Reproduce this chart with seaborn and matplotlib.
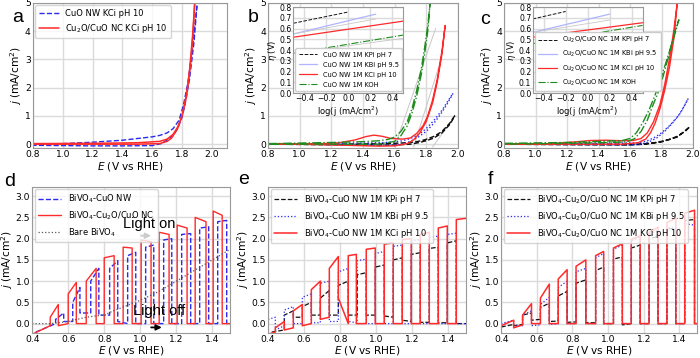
import numpy as np
import pandas as pd
import matplotlib
matplotlib.use('Agg')
import matplotlib.pyplot as plt
import seaborn as sns

# ---------------- data: panel a (LSV, KCi pH 10) ----------------
a_cuo_fwd_E = [0.8, 1.0, 1.2, 1.4, 1.5, 1.6, 1.65, 1.7, 1.74, 1.78, 1.81, 1.84, 1.87, 1.9]
a_cuo_fwd_j = [0.0, 0.02, 0.07, 0.14, 0.2, 0.26, 0.31, 0.4, 0.55, 0.85, 1.4, 2.2, 3.4, 4.9]
a_cuo_rev_E = [1.9, 1.88, 1.85, 1.82, 1.8, 1.77, 1.74, 1.7, 1.66, 1.6, 1.4, 1.2, 1.0, 0.8]
a_cuo_rev_j = [4.9, 3.6, 2.3, 1.4, 0.95, 0.55, 0.3, 0.15, 0.02, -0.05, -0.06, -0.06, -0.05, -0.04]
a_nc_fwd_E = [0.8, 1.2, 1.5, 1.65, 1.7, 1.74, 1.77, 1.8, 1.82, 1.84, 1.86, 1.875, 1.885]
a_nc_fwd_j = [0.02, 0.03, 0.05, 0.1, 0.18, 0.35, 0.6, 1.0, 1.5, 2.1, 3.0, 4.0, 5.0]
a_nc_rev_E = [1.885, 1.87, 1.85, 1.83, 1.8, 1.77, 1.73, 1.7, 1.65, 1.5, 1.2, 0.8]
a_nc_rev_j = [5.0, 3.8, 2.6, 1.7, 1.0, 0.55, 0.22, 0.1, 0.02, 0.0, 0.0, 0.0]

# ---------------- data: panel b (CuO NW, 4 electrolytes) ----------------
b_kpi_E = [0.8, 1.2, 1.5, 1.6, 1.7, 1.75, 1.8, 1.85, 1.9, 1.95, 1.98, 1.95, 1.9, 1.85, 1.8, 1.75, 1.7, 1.6, 1.4, 1.0, 0.8]
b_kpi_j = [0.0, 0.0, 0.02, 0.03, 0.06, 0.1, 0.17, 0.28, 0.45, 0.75, 1.0, 0.7, 0.4, 0.22, 0.12, 0.05, 0.0, -0.03, -0.03, -0.01, 0.0]
b_kbi_E = [0.8, 1.2, 1.5, 1.6, 1.65, 1.7, 1.75, 1.8, 1.85, 1.9, 1.94, 1.97, 1.93, 1.89, 1.85, 1.8, 1.75, 1.7, 1.65, 1.6, 1.4, 1.0, 0.8]
b_kbi_j = [0.0, 0.02, 0.05, 0.08, 0.12, 0.2, 0.33, 0.55, 0.85, 1.2, 1.55, 1.8, 1.4, 1.05, 0.75, 0.45, 0.25, 0.1, 0.0, -0.03, -0.03, 0.0, 0.0]
b_kci_E = [0.8, 1.1, 1.25, 1.35, 1.42, 1.47, 1.52, 1.58, 1.65, 1.7, 1.74, 1.78, 1.81, 1.84, 1.87, 1.9, 1.92,
           1.9, 1.87, 1.84, 1.8, 1.76, 1.72, 1.68, 1.6, 1.5, 1.3, 1.0, 0.8]
b_kci_j = [0.0, 0.01, 0.05, 0.15, 0.27, 0.32, 0.28, 0.2, 0.18, 0.22, 0.38, 0.65, 1.0, 1.55, 2.3, 3.3, 4.2,
           3.2, 2.2, 1.45, 0.8, 0.4, 0.15, 0.02, -0.06, -0.07, -0.04, 0.0, 0.0]
b_koh_E = [0.8, 1.0, 1.2, 1.4, 1.5, 1.56, 1.6, 1.64, 1.68, 1.71, 1.74, 1.77, 1.79, 1.81, 1.825,
           1.81, 1.79, 1.77, 1.74, 1.71, 1.68, 1.64, 1.6, 1.5, 1.3, 1.0, 0.8]
b_koh_j = [0.02, 0.04, 0.06, 0.09, 0.12, 0.17, 0.25, 0.45, 0.8, 1.25, 1.9, 2.7, 3.4, 4.2, 5.0,
           4.0, 3.2, 2.5, 1.7, 1.1, 0.65, 0.3, 0.1, 0.0, 0.0, 0.0, 0.0]
b_fit1_E, b_fit1_j = [1.60, 1.86], [-0.1, 4.1]
b_fit2_E, b_fit2_j = [1.72, 1.90], [-0.1, 3.1]
b_fit3_E, b_fit3_j = [1.84, 1.97], [-0.1, 0.9]

# Tafel inset b
bi_logj = [-0.5, 0.0, 0.25, 0.5]
bi_kpi = [0.65, 0.755]
bi_kbi = [0.55, 0.735]
bi_kci = [0.52, 0.67]
bi_koh = [0.37, 0.54]
bi_fit_kbi = [0.55, 0.69]
bi_fit_koh = [0.37, 0.51]

# ---------------- data: panel c (Cu2O/CuO NC, 4 electrolytes) ----------------
c_kpi_E = [0.8, 1.2, 1.5, 1.65, 1.7, 1.75, 1.8, 1.85, 1.9, 1.95, 1.98, 1.9, 1.8, 1.7, 1.6, 1.2, 0.8]
c_kpi_j = [0.0, 0.0, 0.0, 0.0, 0.02, 0.05, 0.1, 0.17, 0.28, 0.45, 0.62, 0.25, 0.08, 0.0, -0.03, -0.02, 0.0]
c_kbi_E = [0.8, 1.2, 1.5, 1.65, 1.7, 1.75, 1.8, 1.85, 1.9, 1.94, 1.97, 1.92, 1.87, 1.82, 1.77, 1.72, 1.67, 1.6, 1.4, 1.0, 0.8]
c_kbi_j = [0.0, 0.01, 0.04, 0.05, 0.1, 0.22, 0.4, 0.65, 0.95, 1.3, 1.62, 1.1, 0.75, 0.45, 0.22, 0.08, 0.0, -0.03, -0.02, 0.0, 0.0]
c_kci_E = [0.8, 1.1, 1.25, 1.35, 1.45, 1.55, 1.62, 1.67, 1.71, 1.75, 1.79, 1.82, 1.85, 1.88, 1.9,
           1.88, 1.85, 1.82, 1.79, 1.76, 1.73, 1.7, 1.65, 1.55, 1.4, 1.2, 0.8]
c_kci_j = [0.0, 0.02, 0.08, 0.13, 0.14, 0.12, 0.13, 0.2, 0.4, 0.8, 1.4, 2.1, 3.0, 4.1, 5.0,
           3.8, 2.7, 1.9, 1.25, 0.75, 0.4, 0.18, 0.05, 0.0, 0.0, 0.0, 0.0]
c_koh_E = [0.8, 1.2, 1.4, 1.55, 1.6, 1.64, 1.68, 1.72, 1.76, 1.8, 1.84, 1.88, 1.91,
           1.88, 1.85, 1.81, 1.78, 1.74, 1.71, 1.67, 1.63, 1.58, 1.4, 1.2, 0.8]
c_koh_j = [0.03, 0.06, 0.1, 0.13, 0.2, 0.4, 0.75, 1.2, 1.75, 2.4, 3.1, 3.8, 4.4,
           3.9, 3.2, 2.4, 1.85, 1.3, 0.85, 0.45, 0.2, 0.08, 0.05, 0.03, 0.0]

# Tafel inset c
ci_kpi_x, ci_kpi = [-0.5, -0.2], [0.69, 0.76]
ci_kbi_x, ci_kbi = [-0.5, 0.2], [0.565, 0.735]
ci_kci_x, ci_kci = [-0.5, 0.5], [0.52, 0.655]
ci_koh_x, ci_koh = [-0.5, 0.5], [0.46, 0.63]
ci_fit_kbi = [0.565, 0.68]

# ---------------- data: chopped-light panels ----------------
# each pulse: light-on potential, light-off potential, current at on, current at off,
# dark current just before the pulse and just after it
d_nc = dict(start=(0.40, -0.25), end=(1.5, 0.0),
            on=[0.50, 0.60, 0.70, 0.80, 0.905, 1.005, 1.105, 1.205, 1.305, 1.405],
            off=[0.545, 0.645, 0.755, 0.855, 0.955, 1.06, 1.16, 1.26, 1.365, 1.455],
            j_on=[0.15, 0.7, 1.0, 1.55, 1.8, 1.97, 2.15, 2.32, 2.5, 2.65],
            j_off=[0.45, 0.97, 1.3, 1.6, 1.78, 1.93, 2.1, 2.25, 2.4, 2.55],
            dark_pre=[-0.05, 0.0, 0.0, 0.0, 0.0, 0.0, 0.0, 0.0, 0.0, 0.0],
            dark_post=[-0.05, 0.0, 0.0, 0.0, 0.0, 0.0, 0.0, 0.0, 0.0, 0.0])
d_nw = dict(start=(0.42, -0.2), end=(1.5, 0.0),
            on=[0.53, 0.625, 0.725, 0.83, 0.93, 1.03, 1.13, 1.23, 1.33, 1.43],
            off=[0.575, 0.665, 0.77, 0.875, 0.975, 1.075, 1.175, 1.28, 1.38, 1.48],
            j_on=[0.1, 0.5, 1.0, 1.3, 1.6, 1.8, 1.97, 2.1, 2.25, 2.4],
            j_off=[0.25, 0.85, 1.3, 1.48, 1.68, 1.85, 2.0, 2.12, 2.28, 2.43],
            dark_pre=[0.0, 0.05, 0.25, 0.2, 0.0, 0.0, 0.0, 0.0, 0.0, 0.0],
            dark_post=[0.05, 0.25, 0.2, 0.05, 0.0, 0.0, 0.0, 0.0, 0.0, 0.0])
d_bare_E = [0.4, 0.5, 0.55, 0.6, 0.65, 0.7, 0.75, 0.8, 0.85, 0.9, 1.0, 1.1, 1.2, 1.3, 1.4, 1.5]
d_bare_j = [0.0, 0.0, 0.02, 0.05, 0.1, 0.15, 0.18, 0.2, 0.3, 0.38, 0.55, 0.75, 1.0, 1.25, 1.5, 1.75]

e_kpi = dict(start=(0.42, -0.2), end=(1.5, 0.0),
             on=[0.49, 0.59, 0.69, 0.79, 0.895, 0.995, 1.095, 1.195, 1.295, 1.395],
             off=[0.54, 0.64, 0.74, 0.845, 0.945, 1.045, 1.145, 1.245, 1.345, 1.445],
             j_on=[0.2, 0.4, 0.6, 0.9, 1.15, 1.33, 1.5, 1.63, 1.77, 1.9],
             j_off=[0.3, 0.5, 0.78, 1.0, 1.2, 1.38, 1.55, 1.67, 1.8, 1.95],
             dark_pre=[-0.15, 0.15, 0.2, 0.2, 0.2, 0.2, 0.15, 0.05, 0.03, 0.02],
             dark_post=[0.15, 0.2, 0.2, 0.2, 0.2, 0.18, 0.08, 0.03, 0.02, 0.0])
e_kbi = dict(start=(0.40, 0.1), end=(1.5, 0.0),
             on=[0.40, 0.49, 0.59, 0.69, 0.79, 0.895, 0.995, 1.095, 1.195, 1.295, 1.395],
             off=[0.44, 0.54, 0.64, 0.74, 0.845, 0.945, 1.045, 1.145, 1.245, 1.345, 1.445],
             j_on=[0.1, 0.32, 0.62, 0.95, 1.22, 1.48, 1.65, 1.82, 1.95, 2.03, 2.1],
             j_off=[0.15, 0.4, 0.7, 1.0, 1.3, 1.52, 1.7, 1.85, 1.98, 2.06, 2.13],
             dark_pre=[0.1, -0.05, 0.0, 0.02, 0.05, 0.02, 0.0, 0.0, 0.0, 0.0, 0.0],
             dark_post=[-0.15, 0.0, 0.02, 0.05, 0.05, 0.0, 0.0, 0.0, 0.0, 0.0, 0.0])
e_kci = dict(start=(0.40, -0.25), end=(1.5, 2.48),
             on=[0.44, 0.54, 0.64, 0.74, 0.845, 0.945, 1.045, 1.145, 1.245, 1.345, 1.445],
             off=[0.49, 0.59, 0.69, 0.79, 0.89, 0.995, 1.095, 1.195, 1.295, 1.395, 1.5],
             j_on=[-0.1, 0.3, 0.8, 1.3, 1.6, 1.75, 1.87, 1.98, 2.1, 2.25, 2.45],
             j_off=[0.05, 0.45, 1.0, 1.58, 1.63, 1.78, 1.9, 2.0, 2.15, 2.3, 2.48],
             dark_pre=[-0.2, -0.1, 0.0, 0.15, 0.0, 0.0, 0.0, 0.0, 0.0, 0.0, 0.0],
             dark_post=[-0.15, -0.05, 0.1, 0.6, 0.0, 0.0, 0.0, 0.0, 0.0, 0.0, 2.48])

f_on = [0.40, 0.52, 0.62, 0.72, 0.82, 0.93, 1.03, 1.13, 1.23, 1.33, 1.43]
f_off = [0.47, 0.57, 0.67, 0.77, 0.875, 0.975, 1.08, 1.18, 1.28, 1.38, 1.485]
f_kpi = dict(start=(0.40, -0.08), end=(1.5, 0.0), on=f_on, off=f_off,
             j_on=[-0.08, 0.2, 0.38, 0.65, 0.95, 1.25, 1.52, 1.78, 2.0, 2.23, 2.43],
             j_off=[-0.02, 0.25, 0.48, 0.76, 1.03, 1.33, 1.57, 1.85, 2.05, 2.25, 2.45],
             dark_pre=[-0.08, -0.02, 0.1, 0.06, 0.04, 0.02, 0.0, 0.0, 0.0, 0.0, 0.0],
             dark_post=[-0.05, 0.08, 0.05, 0.03, 0.02, 0.0, -0.03, 0.0, 0.0, 0.0, 0.0])
f_kbi = dict(start=(0.40, 0.0), end=(1.5, 0.0), on=f_on, off=f_off,
             j_on=[0.0, 0.2, 0.45, 0.85, 1.22, 1.55, 1.75, 1.95, 2.12, 2.25, 2.35],
             j_off=[0.08, 0.3, 0.62, 1.0, 1.3, 1.65, 1.85, 2.05, 2.2, 2.25, 2.32],
             dark_pre=[0.0, -0.05, -0.03, 0.0, 0.0, 0.0, 0.0, 0.0, 0.0, 0.0, 0.0],
             dark_post=[-0.05, -0.05, -0.02, 0.0, 0.0, 0.0, 0.0, 0.0, 0.0, 0.0, 0.0])
f_kci = dict(start=(0.40, -0.05), end=(1.5, 0.0), on=f_on, off=f_off,
             j_on=[-0.05, 0.2, 0.6, 1.05, 1.35, 1.6, 1.78, 1.98, 2.15, 2.38, 2.6],
             j_off=[0.08, 0.47, 0.93, 1.27, 1.5, 1.7, 1.88, 2.07, 2.27, 2.48, 2.67],
             dark_pre=[-0.05, -0.03, 0.0, 0.0, 0.0, 0.0, 0.0, 0.0, 0.0, 0.0, 0.0],
             dark_post=[-0.1, 0.0, 0.0, 0.0, 0.0, 0.0, 0.0, 0.0, 0.0, 0.0, 0.0])

RED = '#ff2a2a'
BLUE = '#2b2bf0'
GREEN = '#1e8c1e'
BLACK = '#111111'
FIT = '#c8c8c8'

sns.set_theme(style='whitegrid', rc={
    'axes.edgecolor': '0.6', 'grid.color': '0.86', 'axes.linewidth': 0.8,
    'xtick.labelsize': 6.6, 'ytick.labelsize': 6.6, 'axes.labelsize': 7.6,
    'legend.fontsize': 6, 'text.color': 'black', 'axes.labelcolor': 'black',
    'xtick.color': 'black', 'ytick.color': 'black',
    'xtick.bottom': True, 'ytick.left': True,
    'xtick.major.size': 0, 'ytick.major.size': 0,
    'xtick.major.pad': 1.5, 'ytick.major.pad': 1.5,
})
plt.rcParams['font.family'] = ['DejaVu Sans']


def line(ax, E, j, **kw):
    df = pd.DataFrame({'E': E, 'j': j})
    sns.lineplot(data=df, x='E', y='j', sort=False, estimator=None, ax=ax, **kw)


def chopped(p):
    E = [p['start'][0]]
    J = [p['start'][1]]
    for i in range(len(p['on'])):
        E += [p['on'][i], p['on'][i], p['off'][i], p['off'][i]]
        J += [p['dark_pre'][i], p['j_on'][i], p['j_off'][i], p['dark_post'][i]]
    E.append(p['end'][0])
    J.append(p['end'][1])
    return E, J


fig = plt.figure(figsize=(7, 3.58), dpi=100)

ylab = '$j$ (mA/cm$^2$)'
xlab = '$E$ (V vs RHE)'

# ---- a ----
ax_a = fig.add_axes([0.047, 0.587, 0.277, 0.405])
line(ax_a, a_cuo_fwd_E, a_cuo_fwd_j, color=BLUE, linestyle='--', lw=1.0, label='CuO NW KCi pH 10')
line(ax_a, a_cuo_rev_E, a_cuo_rev_j, color=BLUE, linestyle='--', lw=1.0)
line(ax_a, a_nc_fwd_E, a_nc_fwd_j, color=RED, lw=1.1, label='Cu$_2$O/CuO NC KCi pH 10')
line(ax_a, a_nc_rev_E, a_nc_rev_j, color=RED, lw=1.1)
ax_a.set_xlim(0.8, 2.1)
ax_a.set_ylim(-0.13, 5)
ax_a.set_xticks([0.8, 1.0, 1.2, 1.4, 1.6, 1.8, 2.0])
ax_a.legend(loc='upper left', borderaxespad=0.3, handlelength=2.4)

# ---- b ----
ax_b = fig.add_axes([0.383, 0.587, 0.271, 0.405])
for E, j in [(b_fit1_E, b_fit1_j), (b_fit2_E, b_fit2_j), (b_fit3_E, b_fit3_j)]:
    line(ax_b, E, j, color=FIT, lw=0.7)
line(ax_b, b_kpi_E, b_kpi_j, color=BLACK, linestyle='--', lw=1.0)
line(ax_b, b_kbi_E, b_kbi_j, color=BLUE, linestyle=':', lw=1.0)
line(ax_b, b_kci_E, b_kci_j, color=RED, lw=1.0)
line(ax_b, b_koh_E, b_koh_j, color=GREEN, linestyle='-.', lw=1.0)
ax_b.set_xlim(0.8, 2.0)
ax_b.set_ylim(-0.13, 5)

ib = fig.add_axes([0.419, 0.740, 0.157, 0.240])
line(ib, [bi_logj[0], bi_logj[1]], bi_kpi, color=BLACK, linestyle='--', lw=0.7, label='CuO NW 1M KPi pH 7')
line(ib, [bi_logj[0], bi_logj[2]], bi_kbi, color='#b0b4ff', lw=0.9, label='CuO NW 1M KBi pH 9.5')
line(ib, [bi_logj[0], bi_logj[3]], bi_kci, color=RED, lw=0.9, label='CuO NW 1M KCi pH 10')
line(ib, [bi_logj[0], bi_logj[3]], bi_koh, color=GREEN, linestyle='-.', lw=0.8, label='CuO NW 1M KOH')
line(ib, [bi_logj[0], bi_logj[2]], bi_fit_kbi, color=FIT, lw=0.6)
line(ib, [bi_logj[0], bi_logj[3]], bi_fit_koh, color=FIT, lw=0.6)

# ---- c ----
ax_c = fig.add_axes([0.720, 0.587, 0.270, 0.405])
line(ax_c, c_kpi_E, c_kpi_j, color=BLACK, linestyle='--', lw=1.0)
line(ax_c, c_kbi_E, c_kbi_j, color=BLUE, linestyle=':', lw=1.0)
line(ax_c, c_kci_E, c_kci_j, color=RED, lw=1.0)
line(ax_c, c_koh_E, c_koh_j, color=GREEN, linestyle='-.', lw=1.0)
ax_c.set_xlim(0.8, 2.0)
ax_c.set_ylim(-0.13, 5)

ic = fig.add_axes([0.761, 0.740, 0.157, 0.240])
line(ic, ci_kpi_x, ci_kpi, color=BLACK, linestyle='--', lw=0.7, label='Cu$_2$O/CuO NC 1M KPi pH 7')
line(ic, ci_kbi_x, ci_kbi, color='#b0b4ff', lw=0.9, label='Cu$_2$O/CuO NC 1M KBi pH 9.5')
line(ic, ci_kci_x, ci_kci, color=RED, lw=0.9, label='Cu$_2$O/CuO NC 1M KCi pH 10')
line(ic, ci_koh_x, ci_koh, color=GREEN, linestyle='-.', lw=0.8, label='Cu$_2$O/CuO NC 1M KOH')
line(ic, ci_kbi_x, ci_fit_kbi, color=FIT, lw=0.6)

for ax in (ax_a, ax_b, ax_c):
    ax.set_yticks([0, 1, 2, 3, 4, 5])
    ax.set_xlabel(xlab, labelpad=0.5)
    ax.set_ylabel(ylab, labelpad=1)
for ax in (ax_b, ax_c):
    ax.set_xticks([0.8, 1.0, 1.2, 1.4, 1.6, 1.8, 2.0])

for ax in (ib, ic):
    ax.set_xlim(-0.5, 0.5)
    ax.set_ylim(0, 0.8)
    ax.set_xticks([-0.4, -0.2, 0.0, 0.2, 0.4])
    ax.set_yticks(np.arange(0, 0.81, 0.1))
    ax.tick_params(labelsize=5.6, pad=1, length=0)
    ax.set_xlabel('log(j (mA/cm$^2$)', fontsize=6, labelpad=0.5)
    ax.set_ylabel('$\\eta$ (V)', fontsize=6, labelpad=0.5)
    ax.legend(loc='lower left', fontsize=4.8, borderaxespad=0.3, handlelength=2.8,
              labelspacing=0.6, framealpha=1, borderpad=0.5)

# ---- d ----
ax_d = fig.add_axes([0.046, 0.07, 0.283, 0.408])
E, j = chopped(d_nw)
line(ax_d, E, j, color=BLUE, linestyle='--', lw=1.0, label='BiVO$_4$-CuO NW')
E, j = chopped(d_nc)
line(ax_d, E, j, color=RED, lw=1.0, label='BiVO$_4$-Cu$_2$O/CuO NC')
line(ax_d, d_bare_E, d_bare_j, color='0.35', linestyle=':', lw=0.9, label='Bare BiVO$_4$')
ax_d.legend(loc='upper left', borderaxespad=0.3, handlelength=2.8)
ax_d.text(0.905, 2.35, 'Light on', fontsize=10.5, family='Liberation Sans', va='center', zorder=10)
ax_d.text(0.96, 0.3, 'Light off', fontsize=10.5, family='Liberation Sans', va='center', zorder=10)
ax_d.annotate('', xy=(1.075, 2.07), xytext=(0.99, 2.07),
              arrowprops=dict(arrowstyle='-|>', color='black', lw=1.3, mutation_scale=8))
ax_d.annotate('', xy=(1.135, -0.09), xytext=(1.045, -0.09),
              arrowprops=dict(arrowstyle='-|>', color='black', lw=1.3, mutation_scale=8))

# ---- e ----
ax_e = fig.add_axes([0.383, 0.07, 0.283, 0.408])
E, j = chopped(e_kpi)
line(ax_e, E, j, color=BLACK, linestyle='--', lw=0.9, label='BiVO$_4$-CuO NW 1M KPi pH 7')
E, j = chopped(e_kbi)
line(ax_e, E, j, color=BLUE, linestyle=':', lw=0.9, label='BiVO$_4$-CuO NW 1M KBi pH 9.5')
E, j = chopped(e_kci)
line(ax_e, E, j, color=RED, lw=1.1, label='BiVO$_4$-CuO NW 1M KCi pH 10')
ax_e.legend(loc='upper left', borderaxespad=0.3, handlelength=2.8)

# ---- f ----
ax_f = fig.add_axes([0.716, 0.07, 0.280, 0.408])
E, j = chopped(f_kpi)
line(ax_f, E, j, color=BLACK, linestyle='--', lw=0.9, label='BiVO$_4$-Cu$_2$O/CuO NC 1M KPi pH 7')
E, j = chopped(f_kbi)
line(ax_f, E, j, color=BLUE, linestyle=':', lw=0.9, label='BiVO$_4$-Cu$_2$O/CuO NC 1M KBi pH 9.5')
E, j = chopped(f_kci)
line(ax_f, E, j, color=RED, lw=1.1, label='BiVO$_4$-Cu$_2$O/CuO NC 1M KCi pH 10')
ax_f.legend(loc='upper left', borderaxespad=0.3, handlelength=2.8)

for ax in (ax_d, ax_e, ax_f):
    ax.set_xlim(0.4, 1.5)
    ax.set_ylim(-0.22, 3.22)
    ax.set_xticks([0.4, 0.6, 0.8, 1.0, 1.2, 1.4])
    ax.set_yticks([0.0, 0.5, 1.0, 1.5, 2.0, 2.5, 3.0])
    ax.set_xlabel(xlab, labelpad=0)
    ax.set_ylabel(ylab, labelpad=0.5)

# panel letters
for letter, x, y in [('a', 18, 18), ('b', 253, 18), ('c', 485, 20),
                     ('d', 10, 182), ('e', 244, 180), ('f', 490, 180)]:
    fig.text(x / 700, 1 - y / 358, letter, fontsize=14, family='Liberation Sans',
             ha='center', va='center')

fig.savefig('out.png', dpi=100)
